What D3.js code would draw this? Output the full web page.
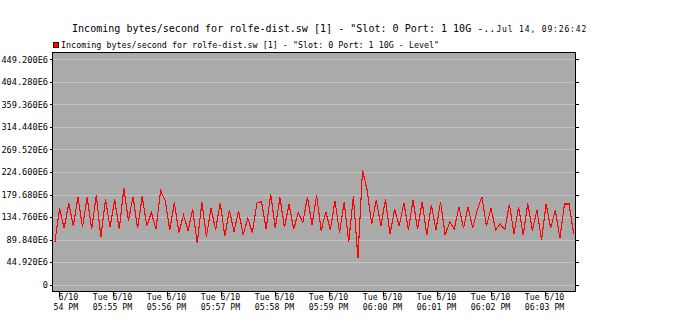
<!DOCTYPE html>
<html><head><meta charset="utf-8">
<script src="https://cdn.jsdelivr.net/npm/d3@7/dist/d3.min.js"></script>
<style>body{margin:0;background:#fff}svg{display:block}</style>
</head><body>
<svg id="chart" width="686" height="333"></svg>
<script>
// ---- data ----
const titleText = 'Incoming bytes/second for rolfe-dist.sw [1] - "Slot: 0 Port: 1 10G -..';
const timestampText = 'Jul 14, 09:26:42';
const seriesName = 'Incoming bytes/second for rolfe-dist.sw [1] - "Slot: 0 Port: 1 10G - Level"';
const timeWindow = ["2008-06-10T17:53:52.2", "2008-06-10T18:03:34.4"];
const sampleStart = "2008-06-10T17:53:55.5";
const sampleStepSeconds = 5.1;
const yTickValues = [0, 44.92e6, 89.84e6, 134.76e6, 179.68e6, 224.6e6, 269.52e6, 314.44e6, 359.36e6, 404.28e6, 449.2e6];
const yDomain = [-14.7e6, 463.9e6];
// incoming bytes/second, in millions (E6)
const levelValuesE6 = [
  85.7,152.2,112.3,162.1,116.9,175.3,114.3,174.1,110.4,178.7,
  94.4,170.1,114.3,170.1,110.4,192.0,127.5,175.3,112.3,176.7,
  116.9,144.2,110.4,187.2,168.7,109.0,164.1,103.6,138.8,107.6,
  150.2,82.5,164.7,95.6,152.2,109.0,163.3,97.0,148.8,105.6,
  147.4,99.0,132.3,103.6,162.7,165.3,111.0,180.7,112.3,174.1,
  114.3,160.8,110.4,144.2,123.5,175.3,118.9,178.7,107.6,145.4,
  109.0,167.3,103.6,164.7,85.7,176.7,52.6,228.5,188.6,120.9,
  168.7,116.9,170.1,101.0,150.2,116.9,163.3,109.0,168.7,110.4,
  165.3,99.0,158.8,109.0,165.3,99.0,124.9,111.0,155.4,112.3,
  155.4,112.3,148.8,175.3,116.9,152.2,109.0,120.9,109.0,160.8,
  101.0,154.8,99.0,162.1,107.6,148.8,89.0,160.8,112.3,148.8,
  92.4,160.8,160.8,101.0
];

// ---- layout ----
const svg = d3.select("#chart");
const L = 52, R = 576, T = 52, B = 292;
const mono = "'DejaVu Sans Mono', 'Liberation Mono', monospace";

const x = d3.scaleTime().domain(timeWindow.map(s => new Date(s))).range([L, R]);
const y = d3.scaleLinear().domain(yDomain).range([B, T]);

const t0 = new Date(sampleStart).getTime();
const points = levelValuesE6.map((v, i) => ({t: new Date(t0 + i * sampleStepSeconds * 1000), v: v * 1e6}));

// title
const title = svg.append("text").attr("x", 72).attr("y", 32)
  .attr("font-family", mono).attr("font-size", 10.05).attr("fill", "#000")
  .text(titleText);
const tw = title.node().getComputedTextLength();
svg.append("text").attr("x", 72 + tw + 1).attr("y", 32)
  .attr("font-family", mono).attr("font-size", 8).attr("letter-spacing", 0.85).attr("fill", "#000")
  .text(timestampText);

// legend
svg.append("rect").attr("x", 53.5).attr("y", 42.5).attr("width", 5).attr("height", 5)
  .attr("fill", "#ff0000").attr("stroke", "#400").attr("stroke-width", 1);
svg.append("text").attr("x", 61).attr("y", 48)
  .attr("font-family", mono).attr("font-size", 8.4).attr("fill", "#000")
  .text(seriesName);

// plot background
svg.append("rect").attr("x", L).attr("y", T).attr("width", R - L).attr("height", B - T).attr("fill", "#aaaaaa");

// gridlines
svg.append("g").selectAll("line").data(yTickValues).join("line")
  .attr("x1", L).attr("x2", R)
  .attr("y1", d => Math.round(y(d)) + 0.5).attr("y2", d => Math.round(y(d)) + 0.5)
  .attr("stroke", "#c4c4c4").attr("stroke-width", 1).attr("shape-rendering", "crispEdges");

// series line
const line = d3.line().x(d => x(d.t)).y(d => y(d.v));
svg.append("path").datum(points).attr("d", line)
  .attr("fill", "none").attr("stroke", "#ff0000").attr("stroke-width", 1.1)
  .attr("shape-rendering", "crispEdges");

// y axis (left)
const fmtY = d => d === 0 ? "0" : d3.format(".3f")(d / 1e6) + "E6";
const yAxisL = d3.axisLeft(y).tickValues(yTickValues).tickSize(2).tickPadding(2).tickFormat(fmtY);
const gl = svg.append("g").attr("transform", `translate(${L},0)`).call(yAxisL);
gl.select(".domain").remove();
gl.selectAll(".tick line").attr("stroke", "#000").attr("shape-rendering", "crispEdges");
gl.selectAll(".tick text").attr("font-family", mono).attr("font-size", 8.6).attr("fill", "#000");

// y axis (right ticks)
const yAxisR = d3.axisRight(y).tickValues(yTickValues).tickSize(3).tickFormat("");
const gr = svg.append("g").attr("transform", `translate(${R},0)`).call(yAxisR);
gr.select(".domain").remove();
gr.selectAll(".tick line").attr("stroke", "#000").attr("shape-rendering", "crispEdges");

// x axis
const xTicks = x.ticks(d3.timeMinute.every(1));
const fmtDay = d3.timeFormat("%a %-m/%-d");
const fmtTime = d3.timeFormat("%I:%M %p");
const xAxis = d3.axisBottom(x).tickValues(xTicks).tickSize(4).tickFormat("");
const gx = svg.append("g").attr("transform", `translate(0,${B})`).call(xAxis);
gx.select(".domain").remove();
gx.selectAll(".tick line").attr("stroke", "#000").attr("shape-rendering", "crispEdges");

const xfs = 8.2;
function clippedLabel(str, cx, baseline) {
  const tmp = svg.append("text").attr("font-family", mono).attr("font-size", xfs).text(str);
  const w = tmp.node().getComputedTextLength();
  tmp.remove();
  const adv = w / str.length;
  const start = cx - w / 2;
  let k = 0;
  while (k < str.length && start + k * adv < L) k++;
  svg.append("text").attr("x", start + k * adv).attr("y", baseline)
    .attr("font-family", mono).attr("font-size", xfs).attr("fill", "#000")
    .attr("xml:space", "preserve").style("white-space", "pre")
    .text(str.slice(k));
}
xTicks.forEach(t => {
  const cx = x(t) - 0.5;
  clippedLabel(fmtDay(t), cx, 300);
  clippedLabel(fmtTime(t), cx, 310);
});

// plot frame
svg.append("rect").attr("x", L + 0.5).attr("y", T + 0.5).attr("width", R - L - 1).attr("height", B - T - 1)
  .attr("fill", "none").attr("stroke", "#000").attr("stroke-width", 1).attr("shape-rendering", "crispEdges");
</script>
</body></html>
